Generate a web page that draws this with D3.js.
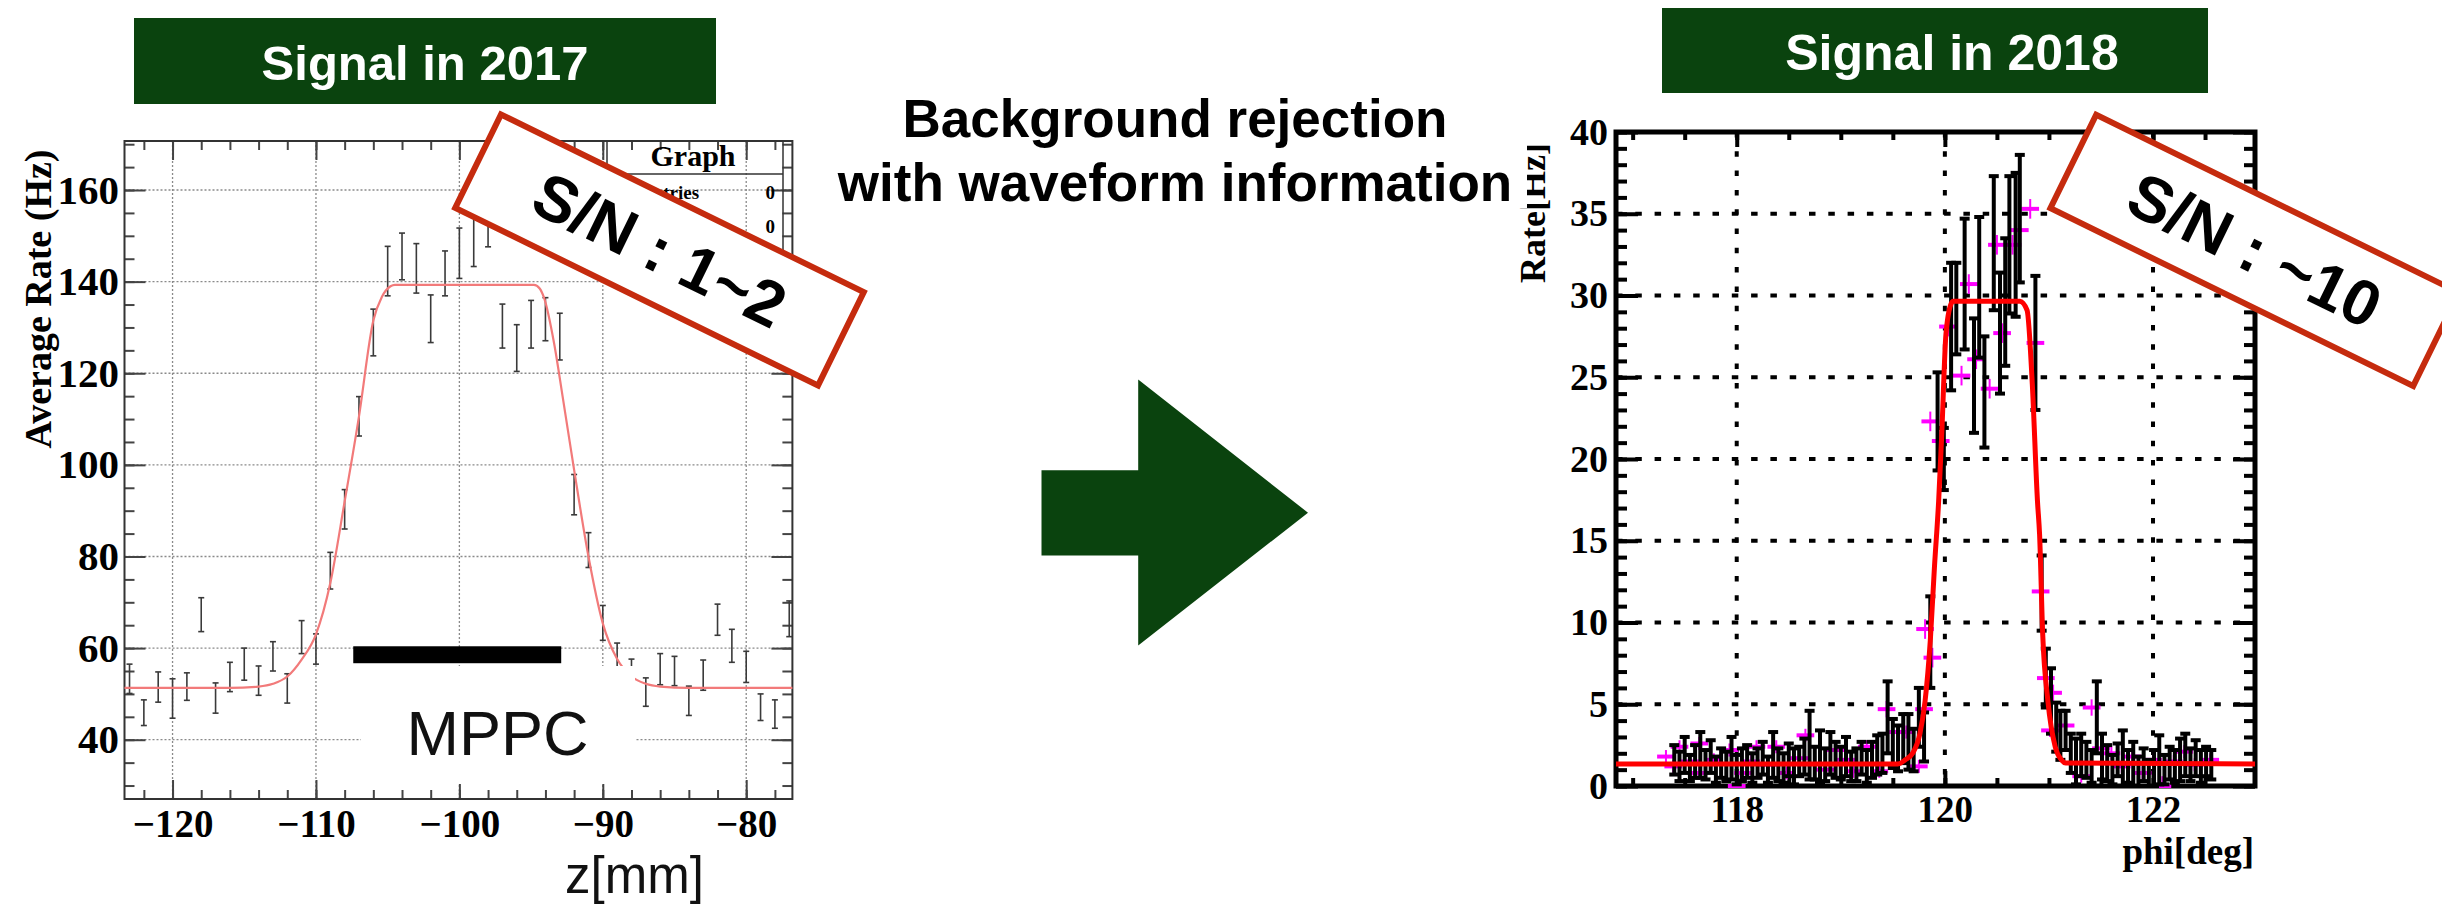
<!DOCTYPE html>
<html>
<head>
<meta charset="utf-8">
<script src="https://cdn.jsdelivr.net/npm/d3@7"></script>
<style>
  body { margin: 0; background: #fff; }
  svg { display: block; }
</style>
</head>
<body>
<svg id="chart" width="2442" height="908"></svg>
<script>
// ---- 2017 (left) ----
const zPos = [-123,-122,-121,-120,-119,-118,-117,-116,-115,-114,-113,-112,-111,-110,-109,-108,
  -107,-106,-105,-104,-103,-102,-101,-100,-99,-98,-97,-96,-95,-94,-93,-92,-91,-90,-89,-88,
  -87,-86,-85,-84,-83,-82,-81,-80,-79,-78,-77];
const rate2017 = [53.3,45.9,51.5,49.0,51.6,67.3,49.1,53.7,56.5,52.9,58.2,51.2,62.4,59.8,76.9,90.3,
  110.6,128.9,142.3,145.5,142.9,131.9,141.8,146.2,148.8,153.0,130.3,125.5,130.7,131.8,128.0,93.5,81.4,65.5,57.8,54.3,
  50.4,55.4,55.0,48.5,54.1,66.2,60.5,55.9,47.1,45.6,66.4];
const err2017 = [3.2,2.8,3.3,4.3,3.0,3.7,3.3,3.2,3.5,3.2,3.2,3.2,3.6,3.3,4.0,4.3,
  4.3,5.1,5.4,5.1,5.4,5.2,4.9,5.5,5.5,5.4,4.8,5.1,5.2,4.7,5.1,4.4,3.8,3.8,3.3,3.3,
  3.1,3.4,3.2,3.2,3.3,3.4,3.6,3.4,2.9,3.1,3.9];
const fit2017Z = [-123.35,-116,-114,-113,-112,-111,-110,-109,-108,-107,-106,-105.4,-104.8,-104.5,
  -94.8,-94.4,-94.1,-93.4,-92.8,-92,-91,-90,-89,-88,-87,-86,-84,-76.78];
const fit2017Rate = [51.3,51.3,51.6,52.2,53.8,57.5,63.0,74.2,92.0,110.6,131.5,136.7,139.0,139.3,
  139.3,138.5,136.5,126.6,114.9,98.9,80.0,65.4,57.6,53.8,52.2,51.6,51.3,51.3];
const zTicks = [-120,-110,-100,-90,-80];
const rate2017Ticks = [40,60,80,100,120,140,160];
const mppcZ = [-107.4,-92.9];
const mppcRate = [56.7,60.4];

// ---- 2018 (right) ----
const phiBlack = [117.40,117.45,117.50,117.55,117.60,117.65,117.70,117.75,117.80,117.85,
  117.90,117.95,118.00,118.05,118.10,118.15,118.20,118.25,118.30,118.35,
  118.40,118.45,118.50,118.55,118.60,118.65,118.70,118.75,118.80,118.85,
  118.90,118.95,119.00,119.05,119.10,119.15,119.20,119.25,119.30,119.35,
  119.40,119.45,119.50,119.55,119.60,119.65,119.70,119.75,119.80,
  119.86,119.93,119.99,120.06,120.11,120.19,120.28,120.33,120.38,120.47,
  120.53,120.58,120.62,120.68,120.72,120.87,120.93,
  120.97,121.02,121.07,121.11,121.16,121.21,121.26,121.31,121.36,121.41,
  121.46,121.51,121.56,121.61,121.66,121.71,121.76,121.81,121.86,121.91,
  121.96,122.01,122.06,122.11,122.16,122.21,122.26,122.31,122.36,122.41,
  122.46,122.51,122.56];
const rateBlack = [1.6,1.2,1.9,1.1,1.5,1.9,1.3,1.8,1.0,1.4,
  1.2,1.7,1.0,1.3,1.5,1.1,1.4,1.7,1.0,1.9,
  1.3,1.1,1.6,1.2,1.5,1.8,2.5,1.4,1.8,1.3,
  2.0,1.6,1.4,1.8,1.2,1.3,1.7,1.2,1.6,1.9,
  2.0,4.2,2.6,2.3,2.9,2.7,2.2,4.2,3.0,
  8.8,22.3,20.0,28.1,29.2,30.7,25.1,30.5,24.1,33.2,
  27.7,29.6,33.1,33.1,34.7,27.1,11.8,
  6.6,5.2,3.6,3.1,3.4,2.0,1.5,1.9,1.6,1.2,
  4.2,1.8,1.4,1.0,1.6,1.7,1.2,1.3,0.9,1.3,
  0.8,1.1,1.6,1.0,1.4,1.2,1.6,1.9,1.3,1.7,
  1.2,1.5,1.3];
const errBlack = [0.9,0.9,1.1,0.8,1.0,1.4,0.9,1.0,0.8,0.9,
  0.9,1.3,0.9,1.0,1.0,0.9,0.9,1.0,0.8,1.4,
  1.0,0.9,1.0,1.1,0.9,1.1,2.1,1.0,1.6,1.0,
  1.3,1.1,1.0,1.2,0.9,1.0,1.0,1.0,1.1,1.2,
  1.2,2.2,1.5,1.4,1.5,1.7,1.3,1.8,1.5,
  2.8,3.0,1.9,3.9,2.8,4.0,3.5,4.3,3.4,4.1,
  3.7,3.9,4.2,4.4,3.9,4.1,2.3,
  1.8,2.0,1.5,1.5,1.2,1.2,1.4,1.3,1.1,1.0,
  2.2,1.4,1.1,0.9,1.0,1.7,1.0,1.4,0.9,1.0,
  0.8,1.1,1.5,0.9,1.0,1.0,1.3,1.3,1.0,1.1,
  1.0,0.9,0.9];
const phiMag = [117.32,117.39,117.45,117.55,117.64,117.64,117.78,117.93,118.00,118.06,
  118.14,118.19,118.30,118.38,118.48,118.60,118.66,118.85,118.95,119.05,
  119.12,119.25,119.37,119.44,119.55,119.63,119.75,119.80,119.81,119.88,
  119.86,119.96,120.03,120.16,120.23,120.30,120.43,120.50,120.55,120.65,
  120.72,120.82,120.87,120.92,120.97,121.04,121.01,121.16,121.31,121.41,
  121.50,121.60,121.70,121.80,121.90,122.00,122.09,122.20,122.30,122.40,122.55];
const rateMag = [1.8,1.2,2.4,1.5,2.6,0.8,1.6,2.2,0.0,0.8,
  1.5,2.4,1.3,2.4,0.8,1.7,3.1,1.0,2.2,1.6,
  0.9,2.4,0.9,4.7,3.3,3.3,1.2,4.7,9.6,7.85,
  22.3,21.1,28.1,25.1,30.7,26.1,24.3,33.1,27.7,33.1,
  34.0,35.3,27.1,11.9,6.6,5.7,3.4,3.7,0.6,4.8,
  2.3,2.0,1.2,1.8,0.8,1.6,0.0,1.5,2.1,1.3,1.6];
const errMag = [0.4,0.4,0.4,0.4,0.4,0.4,0.4,0.4,0.5,0.4,
  0.4,0.4,0.4,0.4,0.4,0.4,0.4,0.4,0.4,0.4,
  0.4,0.4,0.4,0.5,0.4,0.4,0.4,0.5,0.6,0.6,
  0.6,0.6,0.6,0.6,0.6,0.6,0.6,0.6,0.6,0.6,
  0.6,0.6,0.6,0.6,0.5,0.5,0.4,0.4,0.4,0.5,
  0.4,0.4,0.4,0.4,0.4,0.4,0.6,0.4,0.4,0.4,0.4];
const fit2018Phi = [116.84,119.55,119.62,119.69,119.76,119.81,119.86,119.90,119.94,119.97,120.01,120.06,120.08,
  120.72,120.79,120.84,120.89,120.91,120.94,120.99,121.06,121.12,121.16,122.98];
const fit2018Rate = [1.35,1.35,1.6,2.0,3.2,5.2,8.9,13.4,17.4,21.5,27.6,29.5,29.65,
  29.65,29.1,24.6,17.4,15.4,9.3,5.2,2.4,1.6,1.4,1.35];
const phiTicks = [118,120,122];
const rate2018Ticks = [0,5,10,15,20,25,30,35,40];

const GREEN = '#0a430e';
const RED_BOX = '#c52b0e';
const SERIF = "'Liberation Serif', 'Times New Roman', serif";
const SANS = "'Liberation Sans', Arial, Helvetica, sans-serif";

const svg = d3.select('#chart');
svg.append('rect').attr('width', 2442).attr('height', 908).attr('fill', '#fff');

// inward ticks on all four sides of a frame
function frameTicks(g, x, y, box, xt, yt, color, w) {
  const add = (axis, tr, vals, len) => g.append('g').attr('transform', tr)
    .call(axis.tickValues(vals).tickSize(-len).tickFormat(''))
    .call(a => a.select('.domain').remove())
    .call(a => a.selectAll('line').attr('stroke', color).attr('stroke-width', w));
  add(d3.axisBottom(x), `translate(0,${box.b})`, xt.minor, xt.minLen);
  add(d3.axisBottom(x), `translate(0,${box.b})`, xt.major, xt.majLen);
  add(d3.axisTop(x), `translate(0,${box.t})`, xt.minor, xt.minLen);
  add(d3.axisTop(x), `translate(0,${box.t})`, xt.major, xt.majLen);
  add(d3.axisLeft(y), `translate(${box.l},0)`, yt.minor, yt.minLen);
  add(d3.axisLeft(y), `translate(${box.l},0)`, yt.major, yt.majLen);
  add(d3.axisRight(y), `translate(${box.r},0)`, yt.minor, yt.minLen);
  add(d3.axisRight(y), `translate(${box.r},0)`, yt.major, yt.majLen);
}

function styleLabels(a, size) {
  a.select('.domain').remove();
  a.selectAll('text').attr('font-family', SERIF).attr('font-weight', 'bold')
    .attr('font-size', size).attr('fill', '#000');
}

// ================= left chart =================
const L = {l: 124.5, r: 792.4, t: 141, b: 799};
const x1 = d3.scaleLinear([-123.35, -76.78], [L.l, L.r]);
const y1 = d3.scaleLinear([27.06, 170.7], [L.b, L.t]);
const g1 = svg.append('g');

svg.append('rect').attr('x', 134).attr('y', 18).attr('width', 582).attr('height', 86).attr('fill', GREEN);
svg.append('text').attr('x', 425).attr('y', 80).attr('text-anchor', 'middle')
  .attr('font-family', SANS).attr('font-weight', 'bold').attr('font-size', 49).attr('fill', '#fff')
  .text('Signal in 2017');

// grid
g1.append('g').selectAll('line').data(rate2017Ticks).join('line')
  .attr('x1', L.l).attr('x2', L.r).attr('y1', d => y1(d)).attr('y2', d => y1(d))
  .attr('stroke', '#8a8a8a').attr('stroke-width', 1.3).attr('stroke-dasharray', '2,2');
g1.append('g').selectAll('line').data(zTicks).join('line')
  .attr('x1', d => x1(d)).attr('x2', d => x1(d)).attr('y1', L.t).attr('y2', L.b)
  .attr('stroke', '#8a8a8a').attr('stroke-width', 1.3).attr('stroke-dasharray', '2,2');

frameTicks(g1, x1, y1, L,
  {major: zTicks, minor: d3.range(-122, -76, 2), majLen: 19, minLen: 9},
  {major: rate2017Ticks, minor: d3.range(30, 171, 5), majLen: 21, minLen: 10},
  '#444', 2);

g1.append('rect').attr('x', L.l).attr('y', L.t).attr('width', L.r - L.l).attr('height', L.b - L.t)
  .attr('fill', 'none').attr('stroke', '#333').attr('stroke-width', 2);

g1.append('g').attr('transform', `translate(0,${L.b})`)
  .call(d3.axisBottom(x1).tickValues(zTicks).tickSize(0).tickPadding(10).tickFormat(d3.format('d')))
  .call(a => styleLabels(a, 39));
g1.append('g').attr('transform', `translate(${L.l},0)`)
  .call(d3.axisLeft(y1).tickValues(rate2017Ticks).tickSize(0).tickPadding(5.5))
  .call(a => styleLabels(a, 41));

g1.append('text').attr('transform', 'translate(51,299) rotate(-90)').attr('text-anchor', 'middle')
  .attr('font-family', SERIF).attr('font-weight', 'bold').attr('font-size', 38)
  .text('Average Rate (Hz)');

// stat box
const stat = g1.append('g');
stat.append('rect').attr('x', 607).attr('y', L.t).attr('width', 176).attr('height', 117)
  .attr('fill', 'none').attr('stroke', '#333').attr('stroke-width', 1.5);
stat.append('line').attr('x1', 607).attr('x2', 783).attr('y1', 174).attr('y2', 174)
  .attr('stroke', '#333').attr('stroke-width', 1.5);
stat.append('text').attr('x', 693).attr('y', 166).attr('text-anchor', 'middle')
  .attr('font-family', SERIF).attr('font-weight', 'bold').attr('font-size', 30).text('Graph');
[['Entries', 199], ['Mean', 233]].forEach(([k, yy]) => {
  stat.append('text').attr('x', 640).attr('y', yy).attr('font-family', SERIF)
    .attr('font-weight', 'bold').attr('font-size', 19).text(k);
  stat.append('text').attr('x', 775).attr('y', yy).attr('text-anchor', 'end').attr('font-family', SERIF)
    .attr('font-weight', 'bold').attr('font-size', 19).text('0');
});

// error bars
const pts2017 = zPos.map((z, i) => ({z, r: rate2017[i], e: err2017[i]}));
const eb1 = g1.append('g').attr('stroke', '#3a3a3a').attr('stroke-width', 1.6);
eb1.selectAll('.v').data(pts2017).join('line')
  .attr('x1', d => x1(d.z)).attr('x2', d => x1(d.z))
  .attr('y1', d => y1(d.r - d.e)).attr('y2', d => y1(d.r + d.e));
eb1.selectAll('.cap').data(pts2017.flatMap(d => [d.r - d.e, d.r + d.e].map(v => ({z: d.z, v}))))
  .join('line')
  .attr('x1', d => x1(d.z) - 3).attr('x2', d => x1(d.z) + 3)
  .attr('y1', d => y1(d.v)).attr('y2', d => y1(d.v));

// fit
g1.append('path').datum(fit2017Z.map((z, i) => [z, fit2017Rate[i]]))
  .attr('d', d3.line().x(d => x1(d[0])).y(d => y1(d[1])).curve(d3.curveMonotoneX))
  .attr('fill', 'none').attr('stroke', '#f27a7a').attr('stroke-width', 2.2);

// MPPC annotation
svg.append('rect').attr('x', 361).attr('y', 666).attr('width', 274).attr('height', 118).attr('fill', '#fff');
svg.append('rect').attr('x', x1(mppcZ[0])).attr('y', y1(mppcRate[1]))
  .attr('width', x1(mppcZ[1]) - x1(mppcZ[0])).attr('height', y1(mppcRate[0]) - y1(mppcRate[1]))
  .attr('fill', '#000');
svg.append('text').attr('x', 497.6).attr('y', 755).attr('text-anchor', 'middle')
  .attr('font-family', SANS).attr('font-size', 63).attr('fill', '#111').text('MPPC');
svg.append('text').attr('x', 565).attr('y', 893)
  .attr('font-family', SANS).attr('font-size', 51).attr('fill', '#111').text('z[mm]');

// ================= middle =================
svg.append('g').attr('font-family', SANS).attr('font-weight', 'bold').attr('font-size', 53)
  .attr('text-anchor', 'middle')
  .selectAll('text').data([['Background rejection', 136.5], ['with waveform information', 200.8]])
  .join('text').attr('x', 1175).attr('y', d => d[1]).text(d => d[0]);

svg.append('polygon')
  .attr('points', [[1041.5,470.3],[1138.2,470.3],[1138.2,379.6],[1308,512.7],[1138.2,645.5],[1138.2,555.6],[1041.5,555.6]]
    .map(p => p.join(',')).join(' '))
  .attr('fill', GREEN);

// ================= right chart =================
const R = {l: 1616, r: 2255, t: 132, b: 786};
const x2 = d3.scaleLinear([116.84, 122.98], [R.l, R.r]);
const y2 = d3.scaleLinear([0, 40], [R.b, R.t]);
const g2 = svg.append('g');

svg.append('rect').attr('x', 1662).attr('y', 8).attr('width', 546).attr('height', 85).attr('fill', GREEN);
svg.append('text').attr('x', 1952).attr('y', 70).attr('text-anchor', 'middle')
  .attr('font-family', SANS).attr('font-weight', 'bold').attr('font-size', 50).attr('fill', '#fff')
  .text('Signal in 2018');

g2.append('g').selectAll('line').data(rate2018Ticks.slice(1, -1)).join('line')
  .attr('x1', R.l).attr('x2', R.r).attr('y1', d => y2(d)).attr('y2', d => y2(d))
  .attr('stroke', '#000').attr('stroke-width', 4).attr('stroke-dasharray', '6.5,12.8');
g2.append('g').selectAll('line').data(phiTicks).join('line')
  .attr('x1', d => x2(d)).attr('x2', d => x2(d)).attr('y1', R.t).attr('y2', R.b)
  .attr('stroke', '#000').attr('stroke-width', 4).attr('stroke-dasharray', '5.5,13.8');

frameTicks(g2, x2, y2, R,
  {major: phiTicks, minor: d3.range(117, 123, 0.5), majLen: 15, minLen: 8},
  {major: rate2018Ticks, minor: d3.range(0, 41, 1), majLen: 22, minLen: 11},
  '#000', 4);

g2.append('rect').attr('x', R.l).attr('y', R.t).attr('width', R.r - R.l).attr('height', R.b - R.t)
  .attr('fill', 'none').attr('stroke', '#000').attr('stroke-width', 5);

g2.append('g').attr('transform', `translate(0,${R.b})`)
  .call(d3.axisBottom(x2).tickValues(phiTicks).tickSize(0).tickPadding(10).tickFormat(d3.format('d')))
  .call(a => styleLabels(a, 37));
g2.append('g').attr('transform', `translate(${R.l},0)`)
  .call(d3.axisLeft(y2).tickValues(rate2018Ticks).tickSize(0).tickPadding(8).tickFormat(d3.format('d')))
  .call(a => styleLabels(a, 38));

g2.append('text').attr('x', 2254).attr('y', 864).attr('text-anchor', 'end')
  .attr('font-family', SERIF).attr('font-weight', 'bold').attr('font-size', 37).text('phi[deg]');
g2.append('text').attr('transform', 'translate(1545,283) rotate(-90)')
  .attr('font-family', SERIF).attr('font-weight', 'bold').attr('font-size', 36).text('Rate[Hz]');
g2.append('rect').attr('x', 1513).attr('y', 128).attr('width', 14).attr('height', 80).attr('fill', '#fff');

// magenta series
const ptsMag = phiMag.map((p, i) => ({p, r: rateMag[i], e: errMag[i]}));
const mg = g2.append('g').attr('stroke', '#ff00ff');
mg.selectAll('.h').data(ptsMag).join('line').attr('stroke-width', 4)
  .attr('x1', d => x2(d.p - 0.085)).attr('x2', d => x2(d.p + 0.085))
  .attr('y1', d => y2(d.r)).attr('y2', d => y2(d.r));
mg.selectAll('.v').data(ptsMag).join('line').attr('stroke-width', 2)
  .attr('x1', d => x2(d.p)).attr('x2', d => x2(d.p))
  .attr('y1', d => y2(Math.max(0, d.r - d.e))).attr('y2', d => y2(d.r + d.e));

// black error bars
const ptsBlack = phiBlack.map((p, i) => ({p, r: rateBlack[i], e: errBlack[i]}));
const eb2 = g2.append('g').attr('stroke', '#000').attr('stroke-width', 4);
eb2.selectAll('.v').data(ptsBlack).join('line')
  .attr('x1', d => x2(d.p)).attr('x2', d => x2(d.p))
  .attr('y1', d => y2(Math.max(0, d.r - d.e))).attr('y2', d => y2(d.r + d.e));
eb2.selectAll('.cap').data(ptsBlack.flatMap(d => [Math.max(0, d.r - d.e), d.r + d.e].map(v => ({p: d.p, v}))))
  .join('line')
  .attr('x1', d => x2(d.p) - 5).attr('x2', d => x2(d.p) + 5)
  .attr('y1', d => y2(d.v)).attr('y2', d => y2(d.v));

// fit
g2.append('path').datum(fit2018Phi.map((p, i) => [p, fit2018Rate[i]]))
  .attr('d', d3.line().x(d => x2(d[0])).y(d => y2(d[1])).curve(d3.curveMonotoneX))
  .attr('fill', 'none').attr('stroke', '#ff0000').attr('stroke-width', 5);

// ================= S/N labels =================
function snBox(cx, cy, label) {
  const g = svg.append('g').attr('transform', `translate(${cx},${cy}) rotate(26.1)`);
  g.append('rect').attr('x', -202).attr('y', -52).attr('width', 404).attr('height', 104)
    .attr('fill', '#fff').attr('stroke', RED_BOX).attr('stroke-width', 6);
  g.append('text').attr('y', 22).attr('text-anchor', 'middle')
    .attr('font-family', SANS).attr('font-weight', 'bold').attr('font-size', 64).text(label);
}
snBox(659.5, 250, 'S/N : 1~2');
snBox(2254.7, 250.4, 'S/N : ~10');
</script>
</body>
</html>
